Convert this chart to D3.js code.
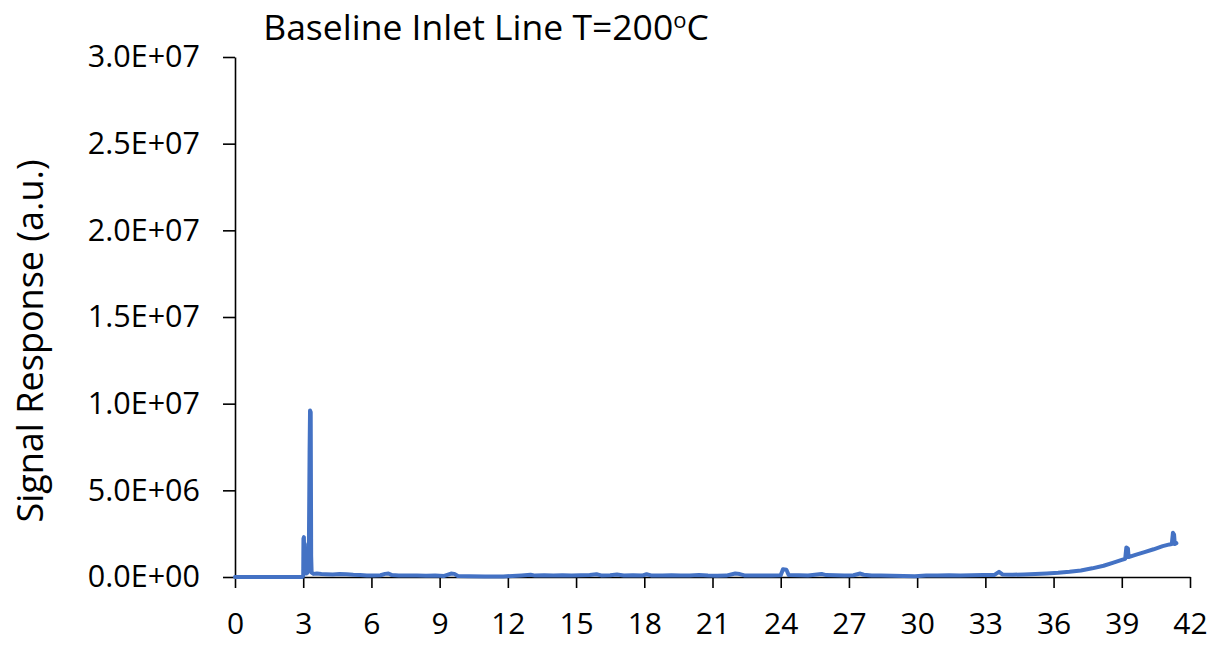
<!DOCTYPE html>
<html>
<head>
<meta charset="utf-8">
<script src="https://cdn.jsdelivr.net/npm/d3@7"></script>
<style>
  html, body { margin: 0; padding: 0; background: #fff; }
  svg { display: block; }
  text { font-family: "Open Sans", Lato, sans-serif; fill: #000; }
</style>
</head>
<body>
<svg id="chart" width="1224" height="646"></svg>
<script>
// Retention time (min) and detector signal (a.u.)
const timeMin = [
  0, 1.0, 2.0, 2.95, 3.00, 3.01, 3.03, 3.05, 3.07, 3.09, 3.11, 3.13, 3.16, 3.19, 3.22,
  3.25, 3.28, 3.30, 3.33, 3.35, 3.37, 3.45, 3.6, 3.8, 4.0, 4.3, 4.6, 4.9, 5.2, 5.5,
  5.8, 6.1, 6.4, 6.6, 6.75, 6.9, 7.2, 7.6, 8.0, 8.4, 8.8, 9.2, 9.5, 9.65, 9.8,
  10.3, 11.0, 11.8, 12.2, 12.6, 13.0, 13.2, 13.6, 14.0, 14.4, 14.8, 15.2, 15.6, 15.9, 16.1,
  16.5, 16.8, 17.1, 17.5, 17.9, 18.1, 18.3, 18.8, 19.2, 19.6, 20.0, 20.4, 20.8, 21.2, 21.6,
  22.0, 22.2, 22.4, 22.8, 23.2, 23.6, 24.0, 24.1, 24.25, 24.35, 24.8, 25.2, 25.5, 25.8, 26.0,
  26.4, 26.8, 27.2, 27.5, 27.65, 28.0, 28.4, 28.9, 29.4, 29.9, 30.4, 30.9, 31.4, 31.9, 32.4,
  32.9, 33.4, 33.6, 33.75, 34.2, 34.7, 35.2, 35.7, 36.2, 36.7, 37.2, 37.7, 38.2, 38.6, 39.0,
  39.15, 39.2, 39.27, 39.3, 39.6, 40.0, 40.4, 40.8, 41.1, 41.2, 41.25, 41.3, 41.33, 41.4
];
const signal = [
  0, 0, 0, 0, 60000, 2200000, 2300000, 600000, 1900000, 300000, 1200000, 200000, 900000, 250000, 500000,
  1800000, 7200000, 9600000, 9500000, 1200000, 250000, 180000, 200000, 170000, 160000, 150000, 170000, 160000, 130000, 110000,
  90000, 80000, 100000, 180000, 200000, 110000, 90000, 80000, 90000, 70000, 80000, 60000, 200000, 180000, 60000,
  40000, 30000, 30000, 60000, 90000, 130000, 80000, 100000, 80000, 100000, 90000, 100000, 110000, 160000, 90000,
  100000, 140000, 90000, 100000, 80000, 160000, 90000, 80000, 100000, 80000, 90000, 110000, 80000, 70000, 80000,
  200000, 170000, 90000, 80000, 90000, 80000, 100000, 450000, 420000, 110000, 100000, 90000, 130000, 170000, 110000,
  100000, 90000, 100000, 200000, 130000, 80000, 90000, 70000, 60000, 50000, 80000, 90000, 100000, 90000, 100000,
  110000, 120000, 300000, 150000, 130000, 150000, 170000, 200000, 240000, 300000, 380000, 500000, 650000, 820000, 990000,
  1050000, 1700000, 1650000, 1150000, 1280000, 1440000, 1600000, 1780000, 1880000, 1900000, 2550000, 2450000, 1900000, 1950000
];

const xTicks = [0, 3, 6, 9, 12, 15, 18, 21, 24, 27, 30, 33, 36, 39, 42];
const yTicks = [0, 5e6, 1e7, 1.5e7, 2e7, 2.5e7, 3e7];

const svg = d3.select("#chart");
const plotLeft = 235, plotRight = 1190, plotTop = 57, plotBottom = 577;

const x = d3.scaleLinear().domain([0, 42]).range([plotLeft, plotRight]);
const y = d3.scaleLinear().domain([0, 3e7]).range([plotBottom, plotTop]);

// Excel-style scientific labels, e.g. 1.5E+07
const sci = v => {
  if (v === 0) return "0.0E+00";
  const e = Math.floor(Math.log10(v));
  const m = v / Math.pow(10, e);
  return m.toFixed(1) + "E+" + String(e).padStart(2, "0");
};

const yAxis = svg.append("g")
  .attr("transform", `translate(${plotLeft},0)`)
  .call(d3.axisLeft(y).tickValues(yTicks).tickFormat(sci).tickSize(12).tickPadding(23).tickSizeOuter(0));
yAxis.selectAll("text").style("font-size", "30.5px");

const xAxis = svg.append("g")
  .attr("transform", `translate(0,${plotBottom})`)
  .call(d3.axisBottom(x).tickValues(xTicks).tickFormat(d3.format("d")).tickSize(11).tickPadding(25).tickSizeOuter(0));
xAxis.selectAll("text").style("font-size", "30px");

svg.selectAll(".domain, .tick line").attr("stroke", "#000").attr("stroke-width", 1.6);

// Signal trace
const pts = timeMin.map((t, i) => [t, signal[i]]);
svg.append("path")
  .datum(pts)
  .attr("fill", "none")
  .attr("stroke", "#4472C4")
  .attr("stroke-width", 4)
  .attr("stroke-linejoin", "round")
  .attr("stroke-linecap", "round")
  .attr("d", d3.line().x(d => x(d[0])).y(d => y(d[1])));

// Title with superscript degree sign
const title = svg.append("text")
  .attr("x", 486).attr("y", 40)
  .attr("text-anchor", "middle")
  .style("font-size", "35.5px");
title.append("tspan").text("Baseline Inlet Line T=200");
title.append("tspan").text("o").attr("dy", -12).style("font-size", "22px");
title.append("tspan").text("C").attr("dy", 12);

// Y axis title
svg.append("text")
  .attr("transform", "translate(43,341) rotate(-90)")
  .attr("text-anchor", "middle")
  .style("font-size", "36px")
  .text("Signal Response (a.u.)");
</script>
</body>
</html>
